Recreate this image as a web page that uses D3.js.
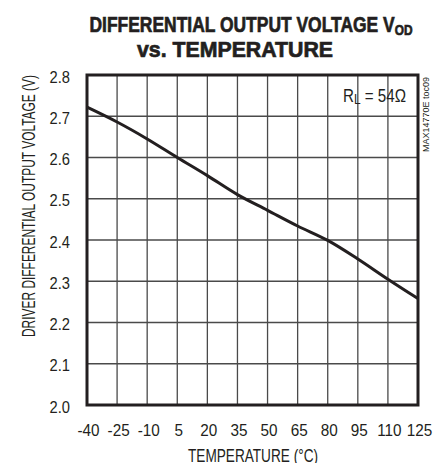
<!DOCTYPE html>
<html>
<head>
<meta charset="utf-8">
<script src="https://cdn.jsdelivr.net/npm/d3@7"></script>
<style>
  body { margin: 0; background: #fff; }
  text { font-family: "Liberation Sans", Arial, sans-serif; fill: #231f20; }
</style>
</head>
<body>
<div class="container"></div>
<script>
const WIDTH = 441,
    HEIGHT = 463,
    LEFT = 87,
    TOP = 75,
    RIGHT = 418,
    BOTTOM = 405;

// data
var temps = [-40, -25, -10, 5, 20, 35, 50, 65, 80, 95, 110, 125];
var vod = [2.722, 2.686, 2.645, 2.600, 2.556, 2.510, 2.472, 2.434, 2.399, 2.354, 2.305, 2.258];
var xTicks = [-40, -25, -10, 5, 20, 35, 50, 65, 80, 95, 110, 125];
var yTicks = [2.0, 2.1, 2.2, 2.3, 2.4, 2.5, 2.6, 2.7, 2.8];

var svg = d3.select('.container').append('svg')
    .attr('width', WIDTH)
    .attr('height', HEIGHT);

var x = d3.scaleLinear().domain([-40, 125]).range([LEFT, RIGHT]);
var y = d3.scaleLinear().domain([2.0, 2.8]).range([BOTTOM, TOP]);

// text with a fixed width (the original uses a condensed face)
var label = (px, py, str, size, len, anchor, rot) => svg.append('text')
    .attr('transform', 'translate(' + px + ',' + py + ')' + (rot ? ' rotate(' + rot + ')' : ''))
    .attr('text-anchor', anchor || 'middle')
    .attr('font-size', size)
    .attr('textLength', len)
    .attr('lengthAdjust', 'spacingAndGlyphs')
    .text(str);

// grid
svg.append('g').selectAll('line').data(xTicks).enter().append('line')
    .attr('x1', d => x(d)).attr('x2', d => x(d))
    .attr('y1', TOP).attr('y2', BOTTOM)
    .attr('stroke', '#4a4a4a').attr('stroke-width', 1.3);
svg.append('g').selectAll('line').data(yTicks).enter().append('line')
    .attr('x1', LEFT).attr('x2', RIGHT)
    .attr('y1', d => y(d)).attr('y2', d => y(d))
    .attr('stroke', '#4a4a4a').attr('stroke-width', 1.3);

// axes (labels only)
var xAxis = d3.axisBottom(x).tickValues(xTicks).tickSize(0).tickFormat(d => String(d));
var yAxis = d3.axisLeft(y).tickValues(yTicks).tickSize(0).tickFormat(d3.format('.1f'));

svg.append('g').attr('transform', 'translate(0,' + BOTTOM + ')').call(xAxis)
    .call(g => g.select('.domain').remove())
    .selectAll('text')
    .attr('y', null).attr('dy', null)
    .attr('transform', 'translate(1,31) scale(0.9,1)')
    .attr('font-size', 17).attr('fill', '#231f20')
    .attr('font-family', '"Liberation Sans", Arial, sans-serif');
svg.append('g').attr('transform', 'translate(' + LEFT + ',0)').call(yAxis)
    .call(g => g.select('.domain').remove())
    .selectAll('text')
    .attr('x', null).attr('dy', null)
    .attr('transform', 'translate(-17,7) scale(0.92,1)')
    .attr('font-size', 16).attr('fill', '#231f20')
    .attr('font-family', '"Liberation Sans", Arial, sans-serif');

// frame
svg.append('rect')
    .attr('x', LEFT).attr('y', TOP)
    .attr('width', RIGHT - LEFT).attr('height', BOTTOM - TOP)
    .attr('fill', 'none').attr('stroke', '#231f20').attr('stroke-width', 3);

// curve
var line = d3.line()
    .x((d, i) => x(temps[i]))
    .y(d => y(d))
    .curve(d3.curveMonotoneX);
svg.append('path')
    .attr('d', line(vod))
    .attr('fill', 'none')
    .attr('stroke', '#231f20')
    .attr('stroke-width', 3);

// title
var t1 = label(251, 32, '', 22, 323).attr('font-weight', 'bold')
    .attr('stroke', '#231f20').attr('stroke-width', 0.7);
t1.append('tspan').text('DIFFERENTIAL OUTPUT VOLTAGE V');
t1.append('tspan').attr('font-size', 15).attr('dy', 3).text('OD');
label(235, 57, 'vs. TEMPERATURE', 22, 196).attr('font-weight', 'bold')
    .attr('stroke', '#231f20').attr('stroke-width', 0.7);

// axis titles
label(253, 461.5, 'TEMPERATURE (°C)', 18.5, 130);
label(35, 206, 'DRIVER DIFFERENTIAL OUTPUT VOLTAGE (V)', 18, 262, 'middle', -90);

// annotation
var rl = label(343, 101.5, '', 19, 63, 'start');
rl.append('tspan').text('R');
rl.append('tspan').attr('font-size', 15).attr('dy', 2.5).text('L');
rl.append('tspan').attr('dy', -2.5).text(' = 54Ω');

label(429, 77, 'MAX14770E toc09', 9.5, 75, 'end', -90);
</script>
</body>
</html>
